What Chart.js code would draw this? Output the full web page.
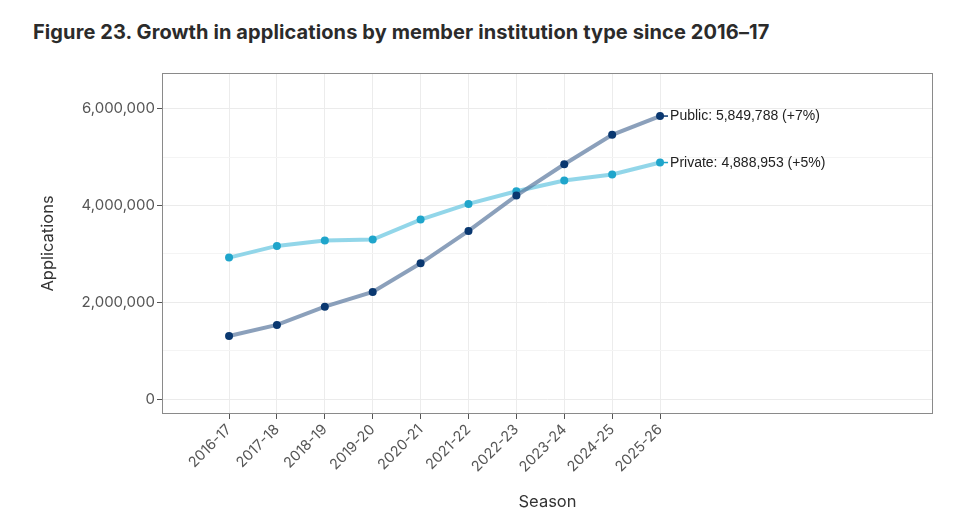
<!DOCTYPE html>
<html lang="en">
<head>
  <meta charset="UTF-8">
  <title>Figure 23</title>
  <script src="https://cdn.jsdelivr.net/npm/chart.js"></script>
  <style>
    body { margin: 0; background: #fff; }
    .wrap { position: relative; width: 977px; height: 524px; }
    h1 { position: absolute; left: 33px; top: 20px; margin: 0; font-family: Inter, "Noto Sans", sans-serif; font-weight: 700; font-size: 20px; letter-spacing: 0.1px; color: #2b2b2b; white-space: nowrap; }
    canvas { position: absolute; left: 0; top: 0; }
  </style>
</head>
<body>
  <div class="wrap">
    <h1>Figure 23. Growth in applications by member institution type since 2016–17</h1>
    <canvas id="grafico" width="977" height="524"></canvas>
  </div>

  <script>
    const seasons = ['2016-17', '2017-18', '2018-19', '2019-20', '2020-21', '2021-22', '2022-23', '2023-24', '2024-25', '2025-26'];
    const publicApps = [1303000, 1531000, 1909000, 2213000, 2806000, 3476000, 4206000, 4854000, 5462000, 5849788];
    const privateApps = [2923000, 3165000, 3275000, 3296000, 3710000, 4034000, 4295000, 4516000, 4641000, 4888953];
    const endLabels = ['Public: 5,849,788 (+7%)', 'Private: 4,888,953 (+5%)'];
    const yTicks = [0, 1000000, 2000000, 3000000, 4000000, 5000000, 6000000];

    const toPoints = arr => arr.map((v, i) => ({ x: i, y: v }));

    // caixa do painel + rótulos no fim das linhas
    const painel = {
      id: 'painel',
      afterDraw(chart) {
        const { ctx, chartArea: a } = chart;
        ctx.save();
        ctx.strokeStyle = '#8a8a8a';
        ctx.lineWidth = 1;
        ctx.strokeRect(a.left + 0.5, a.top + 0.5, a.right - a.left - 1, a.bottom - a.top - 1);
        const xs = chart.scales.x, ys = chart.scales.y;
        chart.data.datasets.forEach((ds, k) => {
          const last = ds.data[ds.data.length - 1];
          const px = xs.getPixelForValue(last.x), py = ys.getPixelForValue(last.y);
          ctx.strokeStyle = ds.pointBackgroundColor;
          ctx.lineWidth = 1.5;
          ctx.beginPath(); ctx.moveTo(px, py); ctx.lineTo(px + 8, py); ctx.stroke();
          ctx.fillStyle = '#222';
          ctx.font = '14px "Liberation Sans", Arial, sans-serif';
          ctx.textBaseline = 'middle';
          ctx.fillText(endLabels[k], px + 10, py + 0.5);
        });
        ctx.restore();
      }
    };

    const ctx = document.getElementById('grafico').getContext('2d');
    const chart = new Chart(ctx, {
      type: 'line',
      data: {
        datasets: [
          {
            label: 'Public',
            data: toPoints(publicApps),
            borderColor: 'rgba(90,120,158,0.7)',
            borderWidth: 4,
            pointBackgroundColor: '#0a3870',
            pointBorderWidth: 0,
            pointRadius: 4,
            tension: 0
          },
          {
            label: 'Private',
            data: toPoints(privateApps),
            borderColor: 'rgba(110,200,225,0.75)',
            borderWidth: 4,
            pointBackgroundColor: '#1fa5cb',
            pointBorderWidth: 0,
            pointRadius: 4,
            tension: 0
          }
        ]
      },
      options: {
        responsive: false,
        animation: false,
        layout: { padding: { top: 73, right: 44, left: 34, bottom: 8 } },
        plugins: { legend: { display: false }, tooltip: { enabled: false } },
        scales: {
          x: {
            type: 'linear',
            min: -1.4,
            max: 14.7,
            afterBuildTicks: s => { s.ticks = seasons.map((_, i) => ({ value: i })); },
            afterFit: s => { s.height = 524 - 414 - 8; },
            ticks: {
              callback: v => seasons[v] || '',
              maxRotation: 45, minRotation: 45,
              autoSkip: false,
              padding: 2,
              color: '#555',
              font: { family: 'Inter, "Noto Sans", sans-serif', size: 14.5 }
            },
            grid: { color: '#ececec', tickColor: '#555', tickLength: 5, drawTicks: true },
            border: { display: false },
            title: { display: true, text: 'Season', color: '#333', padding: 4, font: { family: 'Inter, "Noto Sans", sans-serif', size: 16.5 } }
          },
          y: {
            min: -310000,
            max: 6740000,
            afterBuildTicks: s => { s.ticks = yTicks.map(v => ({ value: v })); },
            afterFit: s => { s.width = 162 - 34; },
            ticks: {
              callback: v => (v % 2000000 === 0 ? v.toLocaleString('en-US') : ''),
              padding: 2,
              color: '#555',
              font: { family: 'Inter, "Noto Sans", sans-serif', size: 15 }
            },
            grid: {
              color: c => (c.tick && c.tick.value % 2000000 === 0 ? '#ebebeb' : '#f4f4f4'),
              tickColor: c => (c.tick && c.tick.value % 2000000 === 0 ? '#555' : 'rgba(0,0,0,0)'),
              tickLength: 5
            },
            border: { display: false },
            title: { display: true, text: 'Applications', color: '#333', padding: 4, font: { family: 'Inter, "Noto Sans", sans-serif', size: 16.5 } }
          }
        }
      },
      plugins: [painel]
    });
  </script>
</body>
</html>
